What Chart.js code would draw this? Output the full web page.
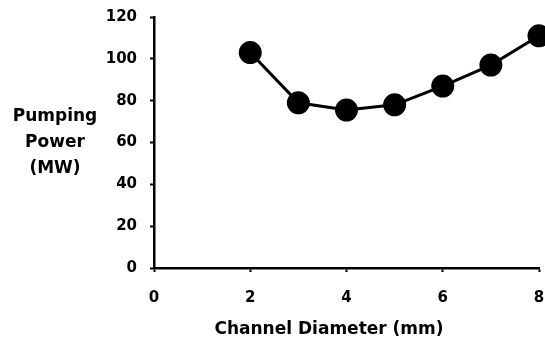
<!DOCTYPE html>
<html>
<head>
<meta charset="utf-8">
<script src="https://cdn.jsdelivr.net/npm/chart.js@4"></script>
<style>
html,body{margin:0;padding:0;background:#fff;}
#wrap{position:relative;width:545px;height:345px;}
</style>
</head>
<body>
<div id="wrap"><canvas id="c" width="545" height="345"></canvas></div>
<script>
const diameters = [2, 3, 4, 5, 6, 7, 8];
const pumpingPower = [103, 79, 75.5, 78, 87, 97, 111];
const xTicks = [0, 2, 4, 6, 8];
const yTicks = [0, 20, 40, 60, 80, 100, 120];
const xTitle = 'Channel Diameter (mm)';
const yTitleLines = ['Pumping', 'Power', '(MW)'];

const FONT = '"DejaVu Sans", sans-serif';

const titlesPlugin = {
  id: 'titles',
  afterDraw(chart) {
    const ctx = chart.ctx;
    ctx.save();
    ctx.fillStyle = '#000';
    ctx.font = 'bold 17px ' + FONT;
    ctx.textAlign = 'center';
    ctx.textBaseline = 'middle';
    const cy = [117, 143, 169];
    yTitleLines.forEach((t, i) => ctx.fillText(t, 55, cy[i]));
    ctx.fillText(xTitle, 329, 330);
    ctx.restore();
  }
};

function zeroPad(s) {
  s.paddingLeft = 0; s.paddingRight = 0; s.paddingTop = 0; s.paddingBottom = 0;
}

new Chart(document.getElementById('c'), {
  type: 'scatter',
  data: {
    datasets: [{
      data: diameters.map((d, i) => ({x: d, y: pumpingPower[i]})),
      showLine: true,
      borderColor: '#000',
      backgroundColor: '#000',
      borderWidth: 3,
      pointRadius: 10,
      pointHoverRadius: 10,
      pointBackgroundColor: '#000',
      pointBorderColor: '#000',
      clip: false
    }]
  },
  options: {
    responsive: false,
    animation: false,
    layout: {autoPadding: false, padding: {left: 0, top: 17, right: 6, bottom: 0}},
    plugins: {legend: {display: false}, tooltip: {enabled: false}},
    scales: {
      x: {
        type: 'linear',
        min: 0, max: 8,
        afterBuildTicks: s => { s.ticks = xTicks.map(v => ({value: v})); },
        afterFit: s => { s.height = 345 - 268; zeroPad(s); },
        border: {display: true, color: '#000', width: 2.5},
        grid: {display: true, drawOnChartArea: false, drawTicks: true, tickLength: 4, tickWidth: 2, tickColor: '#000'},
        ticks: {color: '#000', font: {family: FONT, weight: 'bold', size: 15}, padding: 17},
        title: {display: false}
      },
      y: {
        type: 'linear',
        min: 0, max: 120,
        afterBuildTicks: s => { s.ticks = yTicks.map(v => ({value: v})); },
        afterFit: s => { s.width = 154; zeroPad(s); },
        border: {display: true, color: '#000', width: 2.5},
        grid: {display: true, drawOnChartArea: false, drawTicks: true, tickLength: 4, tickWidth: 2, tickColor: '#000'},
        ticks: {color: '#000', font: {family: FONT, weight: 'bold', size: 15}, padding: 13}
      }
    }
  },
  plugins: [titlesPlugin]
});
</script>
</body>
</html>
